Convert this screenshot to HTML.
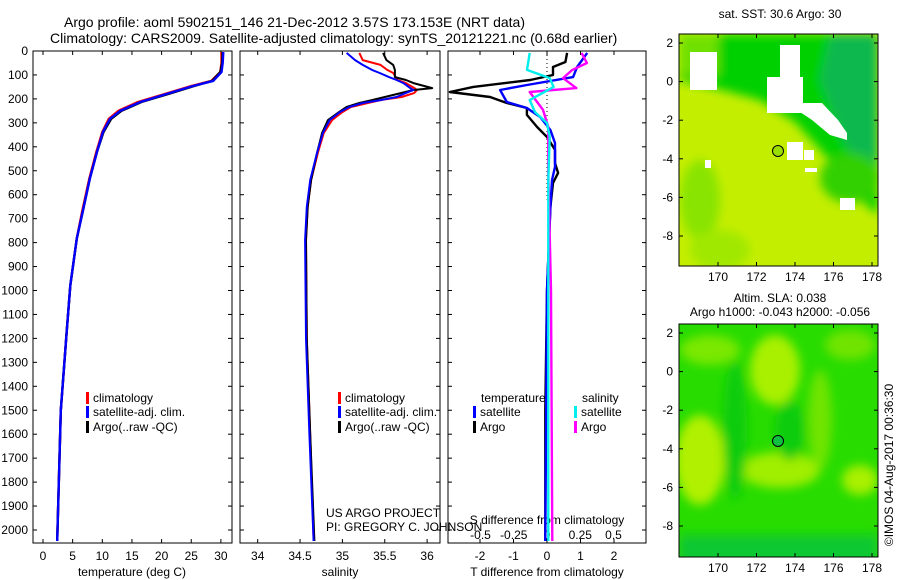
<!DOCTYPE html>
<html><head><meta charset="utf-8"><style>
html,body{margin:0;padding:0;background:#fff;}
svg{display:block;font-family:"Liberation Sans",sans-serif;}
</style></head><body>
<svg id="fig" width="900" height="580" viewBox="0 0 900 580">
<defs>
<filter id="bl" x="-20%" y="-20%" width="140%" height="140%"><feGaussianBlur stdDeviation="5"/></filter>
<clipPath id="c1"><rect x="679" y="34" width="199" height="232"/></clipPath>
<clipPath id="c2"><rect x="679" y="324" width="199" height="233"/></clipPath>
</defs>
<text x="64" y="27" font-size="14">Argo profile: aoml 5902151_146 21-Dec-2012 3.57S 173.153E (NRT data)</text>
<text x="50" y="43" font-size="14">Climatology: CARS2009. Satellite-adjusted climatology: synTS_20121221.nc (0.68d earlier)</text>

<g clip-path="url(#c1)">
<rect x="679" y="34" width="199" height="232" fill="#c4ee00"/>
<g filter="url(#bl)">
<ellipse cx="700" cy="200" rx="20" ry="40" fill="#88e400"/>
<ellipse cx="720" cy="250" rx="30" ry="20" fill="#a0e800"/>
<polygon points="679,34 878,34 878,215 855,195 825,155 795,122 760,100 715,88 679,80" fill="#00d000"/>
<polygon points="679,34 718,34 718,75 679,75" fill="#70e000"/>
<polygon points="830,34 878,34 878,185 845,145 820,80" fill="#10b850"/>
<ellipse cx="850" cy="178" rx="30" ry="25" fill="#30d000"/>
</g>
<g fill="#fff">
<rect x="690" y="52" width="27" height="38"/>
<rect x="767" y="77" width="36" height="36"/>
<rect x="780" y="45" width="20" height="35"/>
<polygon points="797,103 822,103 838,120 847,133 847,140 830,135 812,120 800,112"/>
<rect x="787" y="142" width="16" height="18"/>
<rect x="804" y="150" width="10" height="10"/>
<rect x="840" y="198" width="15" height="12"/>
<rect x="705" y="160" width="6" height="8"/>
<rect x="805" y="168" width="12" height="4"/>
</g>
</g>
<rect x="679" y="34" width="199" height="232" fill="none" stroke="#000"/>
<circle cx="778" cy="151" r="5.5" fill="#9ade00" stroke="#000"/>
<text x="780" y="18" font-size="12" text-anchor="middle">sat. SST: 30.6 Argo: 30</text>

<g clip-path="url(#c2)">
<rect x="679" y="324" width="199" height="233" fill="#28dc00"/>
<g filter="url(#bl)">
<ellipse cx="710" cy="350" rx="30" ry="15" fill="#7ae800"/>
<ellipse cx="775" cy="370" rx="25" ry="35" fill="#a8f000"/>
<ellipse cx="700" cy="460" rx="25" ry="45" fill="#b0f000"/>
<ellipse cx="780" cy="470" rx="40" ry="18" fill="#a0ee00"/>
<ellipse cx="820" cy="420" rx="12" ry="50" fill="#70e400"/>
<ellipse cx="860" cy="480" rx="18" ry="15" fill="#a8f000"/>
<ellipse cx="850" cy="345" rx="25" ry="15" fill="#70e400"/>
<ellipse cx="790" cy="430" rx="15" ry="30" fill="#08cc10"/>
<ellipse cx="735" cy="430" rx="12" ry="70" fill="#10cc10"/>
<rect x="679" y="535" width="199" height="30" fill="#10c830"/>
</g>
</g>
<rect x="679" y="324" width="199" height="233" fill="none" stroke="#000"/>
<circle cx="778" cy="441" r="5.5" fill="#10c040" stroke="#000"/>
<text x="780" y="302" font-size="12" text-anchor="middle">Altim. SLA: 0.038</text>
<text x="780" y="316" font-size="12" text-anchor="middle">Argo h1000: -0.043 h2000: -0.056</text>
<text x="0" y="0" font-size="12" text-anchor="middle" transform="translate(893,465) rotate(-90)">©IMOS 04-Aug-2017 00:36:30</text>

<text x="326" y="517" font-size="12">US ARGO PROJECT</text>
<text x="326" y="531" font-size="12">PI: GREGORY C. JOHNSON</text>
<g id="dyn"></g>
</svg>
<script>
// depth axis
var depthTicks=[0,100,200,300,400,500,600,700,800,900,1000,1100,1200,1300,1400,1500,1600,1700,1800,1900,2000];
// temperature panel
var tempDepth=[4,50,88,125,146,179,213,250,283,338,421,533,671,783,979,1171,1500,2046];
var tempClim=[30.1,30.1,29.9,28.4,25.0,20.6,16.0,12.7,11.1,10.0,9.0,7.8,6.6,5.7,4.6,4.0,3.0,2.4];
var tempSat=[30.4,30.3,30.1,28.7,25.3,20.9,16.4,13.0,11.3,10.1,9.1,7.9,6.7,5.7,4.6,4.0,3.0,2.4];
var tempArgo=[30.3,30.2,29.9,28.5,25.5,21.2,16.6,13.2,11.5,10.2,9.1,7.9,6.7,5.7,4.6,4.0,3.0,2.4];
var tempTicks=[0,5,10,15,20,25,30];
// salinity panel
var salDepth=[8,38,58,79,92,109,121,134,155,163,175,192,205,217,234,255,288,342,426,539,651,789,1200,1600,2046];
var salClim=[35.20,35.24,35.45,35.53,35.60,35.63,35.65,35.75,35.85,35.88,35.85,35.70,35.45,35.30,35.10,35.00,34.88,34.78,34.71,34.63,34.59,34.57,34.58,34.62,34.66];
var salSat=[35.05,35.15,35.24,35.35,35.44,35.55,35.64,35.72,35.80,35.84,35.75,35.64,35.45,35.24,35.08,34.97,34.85,34.77,34.70,34.62,34.58,34.56,34.57,34.61,34.66];
var salArgo=[35.48,35.52,35.60,35.62,35.62,35.62,35.75,35.84,36.06,35.84,35.70,35.50,35.35,35.20,35.05,34.96,34.83,34.76,34.70,34.63,34.59,34.57,34.58,34.62,34.67];
var salTicks=[34,34.5,35,35.5,36];
// difference panel
var dTArgoDepth=[8,46,67,100,121,150,171,192,217,238,267,317,359,413,468,509,551,651,1000,1500,2046];
var dTArgo=[0.6,0.55,0.18,0.18,-0.5,-2.2,-2.9,-1.7,-1.2,-0.6,-0.6,-0.3,0.0,0.24,0.24,0.33,0.18,0.1,0.0,-0.05,-0.05];
var dTSatDepth=[8,67,109,142,163,213,238,276,330,384,484,539,651,1000,2046];
var dTSat=[1.2,0.9,0.78,-0.6,-1.4,-1.2,-0.6,-0.2,0.1,0.24,0.24,0.15,0.1,0.0,-0.05];
var dSArgoDepth=[8,50,79,113,155,171,246,317,509,1000,2046];
var dSArgo=[0.26,0.3,0.19,0.12,0.22,-0.13,-0.03,0.01,0.01,0.03,0.04];
var dSSatDepth=[8,79,113,150,205,255,301,359,539,1000,2046];
var dSSat=[-0.13,-0.15,0.02,0.05,-0.13,-0.09,0.0,0.02,0.01,0.01,0.01];
var dTTicks=[-2,-1,0,1,2];
var dSTicks=[-0.5,-0.25,0,0.25,0.5];
var dSTickLabels=["-0.5","-0.25","0","0.25","0.5"];
var mapLon=[170,172,174,176,178];
var mapLat=[2,0,-2,-4,-6,-8];

var NS="http://www.w3.org/2000/svg";
var g=document.getElementById('dyn');
function el(t,a,p){var e=document.createElementNS(NS,t);for(var k in a)e.setAttribute(k,a[k]);(p||g).appendChild(e);return e;}
var top0=51,bot=543;
function yD(d){return top0+d*0.2395;}
function xT(v){return 43+v*5.93;}
function xS(v){return 257.7+(v-34)*84.7;}
function xDT(v){return 547+v*33.5;}
function xDS(v){return 547+v*133;}
var panels=[[33,232],[240,440],[448,646]];
panels.forEach(function(p,i){
  var r=el('rect',{x:p[0],y:top0,width:p[1]-p[0],height:bot-top0,fill:'none',stroke:'#000'});
  
  
  depthTicks.forEach(function(d){
    el('line',{x1:p[0],x2:p[0]+4,y1:yD(d),y2:yD(d),stroke:'#000'});
    el('line',{x1:p[1]-4,x2:p[1],y1:yD(d),y2:yD(d),stroke:'#000'});
  });
});
depthTicks.forEach(function(d){
  var t=el('text',{x:28,y:yD(d)+4,'font-size':12,'text-anchor':'end'});t.textContent=d;
  
  
});
function xticks(vals,labels,fx,ly){
  vals.forEach(function(v,i){
    var x=fx(v);
    el('line',{x1:x,x2:x,y1:top0,y2:top0+4,stroke:'#000'});
    el('line',{x1:x,x2:x,y1:bot-4,y2:bot,stroke:'#000'});
    var t=el('text',{x:x,y:ly,'font-size':12,'text-anchor':'middle'});t.textContent=labels[i];
    
    
  });
}
xticks(tempTicks,tempTicks,xT,560);
xticks(salTicks,salTicks,xS,560);
xticks(dTTicks,dTTicks,xDT,560);
dSTicks.forEach(function(v,i){
  var t=el('text',{x:xDS(v),y:539,'font-size':12,'text-anchor':'middle'});t.textContent=dSTickLabels[i];
  
  
});
function label(x,y,s,name,anchor){var t=el('text',{x:x,y:y,'font-size':12,'text-anchor':anchor||'middle'});t.textContent=s;
  
  return t;}
label(132,576,'temperature (deg C)','temperature-axis-title');
label(340,576,'salinity','salinity-axis-title');
label(547,576,'T difference from climatology','t-diff-axis-title');
label(547,524,'S difference from climatology','s-diff-axis-title');
var z=el('line',{x1:547,x2:547,y1:top0,y2:yD(620),stroke:'#000','stroke-dasharray':'1,3'});


function line(ds,vs,fx,col,name,w){
  var d=ds.map(function(dd,i){return (i?'L':'M')+fx(vs[i]).toFixed(1)+','+yD(dd).toFixed(1);}).join('');
  var p=el('path',{d:d,fill:'none',stroke:col,'stroke-width':w||2.4,'stroke-linejoin':'round'});
  
  
}
line(tempDepth,tempClim,xT,'#f00','temp-climatology-line');
line(tempDepth,tempArgo,xT,'#000','temp-argo-line');
line(tempDepth,tempSat,xT,'#00f','temp-satellite-line');
line(salDepth,salClim,xS,'#f00','sal-climatology-line',2);
line(salDepth,salArgo,xS,'#000','sal-argo-line',2);
line(salDepth,salSat,xS,'#00f','sal-satellite-line',2);
line(dTArgoDepth,dTArgo,xDT,'#000','t-diff-argo-line');
line(dTSatDepth,dTSat,xDT,'#00f','t-diff-satellite-line');
line(dSArgoDepth,dSArgo,xDS,'#f0f','s-diff-argo-line');
line(dSSatDepth,dSSat,xDS,'#0ee','s-diff-satellite-line');
function leg(x,y,col,txt,name){
  el('rect',{x:x,y:y-6,width:3,height:12,fill:col});
  var t=el('text',{x:x+7,y:y+4,'font-size':12});t.textContent=txt;
  
  
}
[86,338].forEach(function(x){
  leg(x,398,'#f00','climatology','legend-climatology');
  leg(x,412,'#00f','satellite-adj. clim.','legend-satellite-adj');
  leg(x,427,'#000','Argo(..raw -QC)','legend-argo');
});
label(481,402,'temperature','legend-temperature-header','start');
label(582,402,'salinity','legend-salinity-header','start');
leg(473,412,'#00f','satellite','legend-t-satellite');
leg(473,427,'#000','Argo','legend-t-argo');
leg(574,412,'#0ee','satellite','legend-s-satellite');
leg(574,427,'#f0f','Argo','legend-s-argo');
[[34,266,43,281],[324,557,333,572]].forEach(function(m){
  mapLon.forEach(function(v){
    var x=718+(v-170)*19.25;
    el('line',{x1:x,x2:x,y1:m[0],y2:m[0]+4,stroke:'#000'});
    el('line',{x1:x,x2:x,y1:m[1]-4,y2:m[1],stroke:'#000'});
    label(x,m[3],v,'map-lon-tick-label');
  });
  mapLat.forEach(function(v){
    var y=m[2]+(2-v)*19.3;
    el('line',{x1:679,x2:683,y1:y,y2:y,stroke:'#000'});
    el('line',{x1:874,x2:878,y1:y,y2:y,stroke:'#000'});
    label(673,y+4,v,'map-lat-tick-label','end');
  });
});
</script>
</body></html>
